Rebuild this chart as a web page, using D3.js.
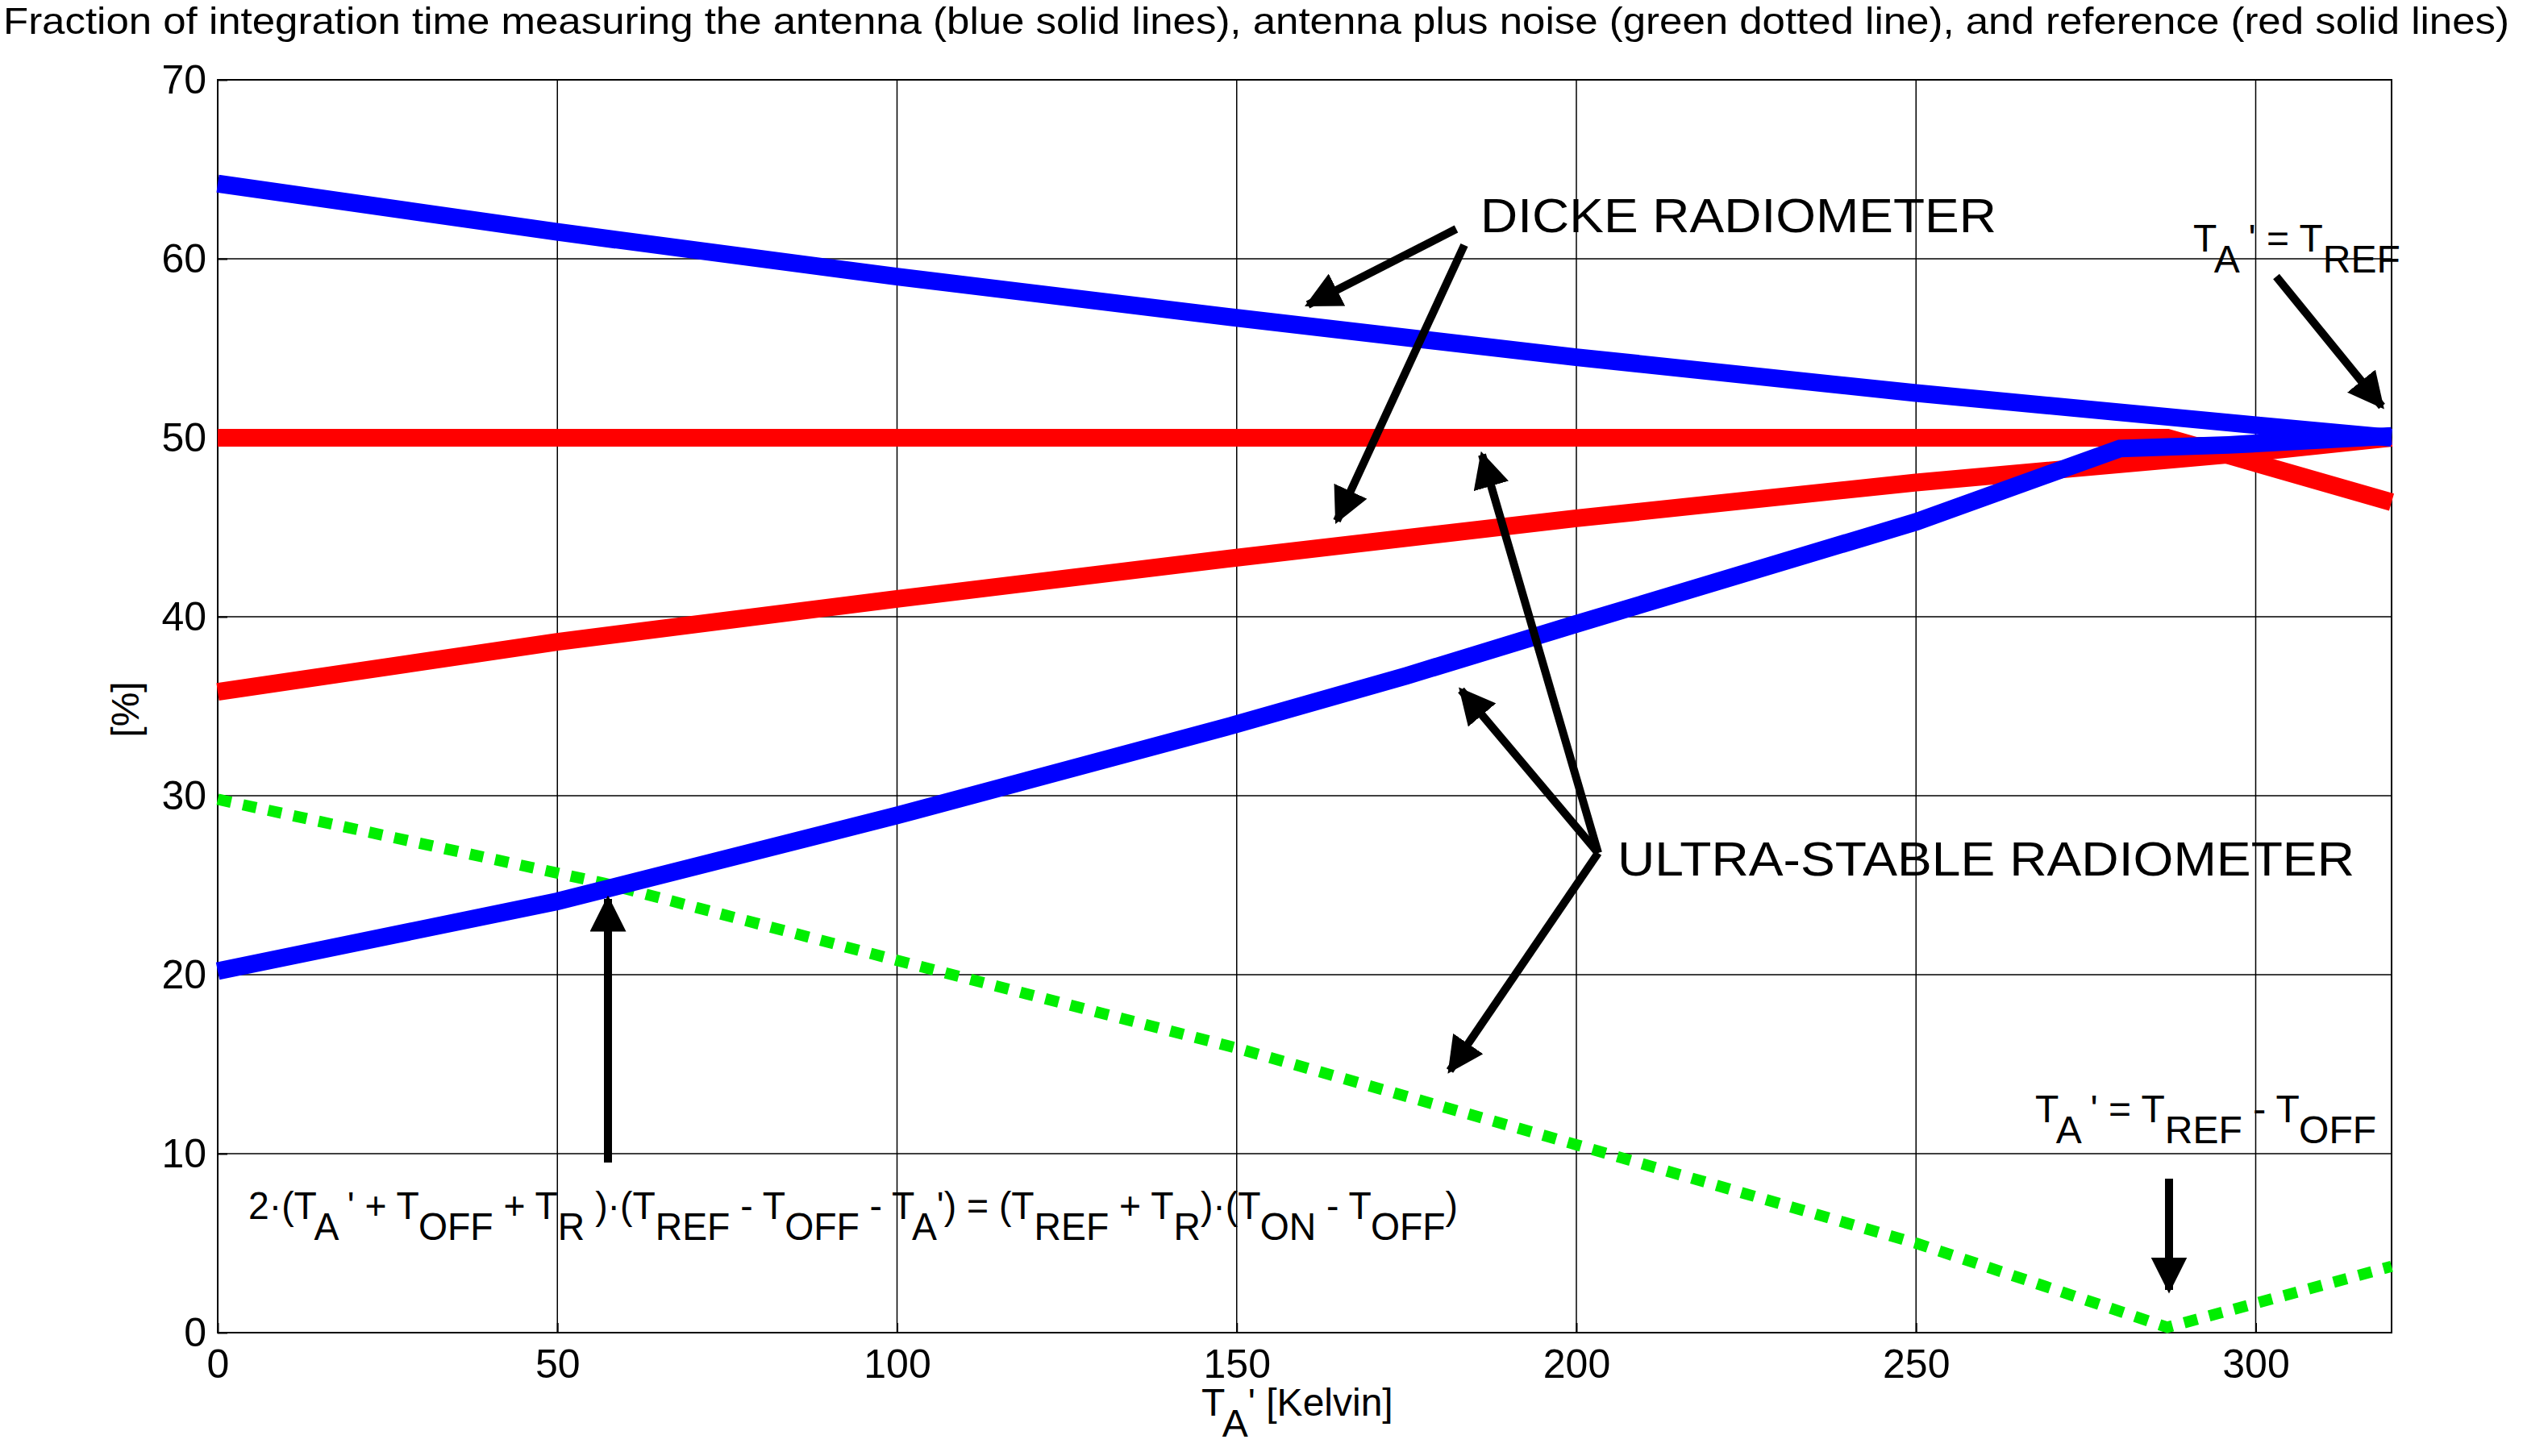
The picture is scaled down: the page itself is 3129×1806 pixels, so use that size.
<!DOCTYPE html>
<html>
<head>
<meta charset="utf-8">
<script src="https://cdn.jsdelivr.net/npm/d3@7"></script>
<style>
  body { margin: 0; background: #fff; }
  text { font-family: "Liberation Sans", Arial, sans-serif; fill: #000; }
</style>
</head>
<body>
<svg id="chart" width="3129" height="1806"></svg>
<script>
// data (x = TA' in Kelvin, y = %)
const xTicks = [0, 50, 100, 150, 200, 250, 300];
const yTicks = [0, 10, 20, 30, 40, 50, 60, 70];

const dickeAntenna = [[0, 64.2], [50, 61.5], [100, 59.0], [150, 56.7], [200, 54.5], [250, 52.5], [300, 50.7], [320, 50.0]];
const dickeReference = [[0, 35.8], [50, 38.6], [100, 41.0], [150, 43.3], [200, 45.5], [250, 47.5], [300, 49.2], [320, 50.0]];
const usAntenna = [[0, 20.2], [50, 24.1], [100, 28.9], [150, 34.0], [175, 36.7], [200, 39.6], [250, 45.3], [280, 49.4], [296, 49.6], [320, 50.1]];
const usReference = [[0, 50], [287, 50], [320, 46.4]];
const usNoise = [[0, 29.8], [57, 25.1], [100, 20.8], [150, 15.9], [200, 10.5], [250, 5.0], [287, 0.3], [320, 3.7]];

const svg = d3.select("#chart");
const plotL = 270, plotR = 2966, plotT = 99, plotB = 1653;

const x = d3.scaleLinear().domain([0, 320]).range([plotL, plotR]);
const y = d3.scaleLinear().domain([0, 70]).range([plotB, plotT]);

// grid
svg.append("g").selectAll("line").data(xTicks).enter().append("line")
  .attr("x1", d => x(d)).attr("x2", d => x(d)).attr("y1", plotT).attr("y2", plotB)
  .attr("stroke", "#000").attr("stroke-width", 1.5);
svg.append("g").selectAll("line").data(yTicks).enter().append("line")
  .attr("x1", plotL).attr("x2", plotR).attr("y1", d => y(d)).attr("y2", d => y(d))
  .attr("stroke", "#000").attr("stroke-width", 1.5);
svg.append("rect").attr("x", plotL).attr("y", plotT).attr("width", plotR - plotL).attr("height", plotB - plotT)
  .attr("fill", "none").attr("stroke", "#000").attr("stroke-width", 2);

// axes
const xAxis = svg.append("g").attr("transform", `translate(0,${plotB})`)
  .call(d3.axisBottom(x).tickValues(xTicks).tickSize(-12).tickPadding(20));
const yAxis = svg.append("g").attr("transform", `translate(${plotL},0)`)
  .call(d3.axisLeft(y).tickValues(yTicks).tickSize(-12).tickPadding(14));
[xAxis, yAxis].forEach(a => {
  a.select(".domain").remove();
  a.selectAll("line").attr("stroke-width", 2);
  a.selectAll("text").style("font-family", "Liberation Sans, Arial, sans-serif").style("font-size", "50px");
});

// lines
const line = d3.line().x(d => x(d[0])).y(d => y(d[1]));
function drawLine(data, color, width, dash) {
  svg.append("path").datum(data).attr("d", line)
    .attr("fill", "none").attr("stroke", color).attr("stroke-width", width)
    .attr("stroke-dasharray", dash || null);
}
drawLine(usNoise, "#00ee00", 14, "17,15");
drawLine(dickeReference, "#ff0000", 22);
drawLine(usReference, "#ff0000", 22);
drawLine(dickeAntenna, "#0000ff", 22);
drawLine(usAntenna, "#0000ff", 22);

// arrows
svg.append("defs").append("marker").attr("id", "head")
  .attr("viewBox", "0 0 10 10").attr("refX", 9).attr("refY", 5)
  .attr("markerWidth", 4.5).attr("markerHeight", 4.5).attr("orient", "auto")
  .append("path").attr("d", "M0,0 L10,5 L0,10 Z").attr("fill", "#000");
function arrow(x1, y1, x2, y2) {
  svg.append("line").attr("x1", x1).attr("y1", y1).attr("x2", x2).attr("y2", y2)
    .attr("stroke", "#000").attr("stroke-width", 10).attr("marker-end", "url(#head)");
}
arrow(1806, 284, 1622, 378);
arrow(1816, 304, 1658, 646);
arrow(1982, 1058, 1838, 564);
arrow(1982, 1058, 1812, 856);
arrow(1982, 1058, 1798, 1328);
arrow(2823, 343, 2954, 504);
arrow(754, 1442, 754, 1115);
arrow(2690, 1462, 2690, 1600);

// text with subscripts: parts are [string, isSub]
function rich(xp, yp, parts, size, opts = {}) {
  const t = svg.append("text").attr("x", xp).attr("y", yp).style("font-size", size + "px");
  if (opts.anchor) t.attr("text-anchor", opts.anchor);
  if (opts.len) t.attr("textLength", opts.len).attr("lengthAdjust", "spacingAndGlyphs");
  if (opts.rotate) t.attr("transform", `rotate(${opts.rotate},${xp},${yp})`);
  let sub = false;
  parts.forEach(p => {
    const s = t.append("tspan").text(p[0]);
    if (p[1] && !sub) s.attr("dy", size * 0.55);
    if (!p[1] && sub) s.attr("dy", -size * 0.55);
    sub = p[1];
  });
  return t;
}

rich(4, 42, [["Fraction of integration time measuring the antenna (blue solid lines), antenna plus noise (green dotted line), and reference (red solid lines)", false]], 46, { len: 3108 });
rich(1836, 288, [["DICKE RADIOMETER", false]], 60, { len: 640 });
rich(2006, 1086, [["ULTRA-STABLE RADIOMETER", false]], 60, { len: 914 });
rich(2720, 312, [["T", false], ["A", true], [" ' = T", false], ["REF", true]], 48);
rich(2524, 1392, [["T", false], ["A", true], [" ' = T", false], ["REF", true], [" - T", false], ["OFF", true]], 48);
rich(308, 1512, [["2·(T", false], ["A", true], [" ' + T", false], ["OFF", true], [" + T", false], ["R", true],
  [" )·(T", false], ["REF", true], [" - T", false], ["OFF", true], [" - T", false], ["A", true],
  ["') = (T", false], ["REF", true], [" + T", false], ["R", true], [")·(T", false], ["ON", true],
  [" - T", false], ["OFF", true], [")", false]], 48, { len: 1500 });
rich(1490, 1756, [["T", false], ["A", true], ["' [Kelvin]", false]], 48);
rich(172, 880, [["[%]", false]], 48, { anchor: "middle", rotate: -90 });
</script>
</body>
</html>
